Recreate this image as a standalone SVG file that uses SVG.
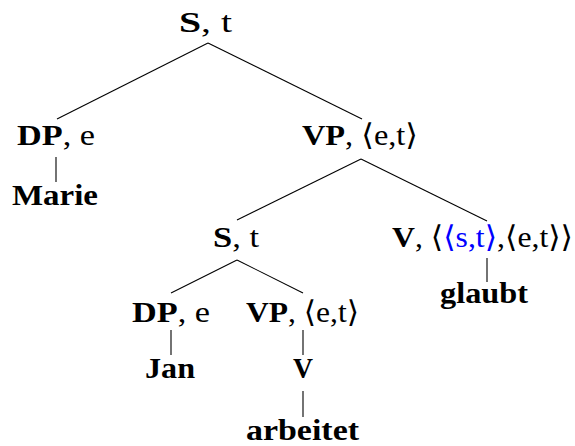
<svg xmlns="http://www.w3.org/2000/svg" width="575" height="446" viewBox="0 0 575 446">
<style>
text{font-family:"Liberation Serif","DejaVu Serif",serif;font-size:30px;fill:#000}
.b{font-weight:bold}
.blue{fill:#0000ff}
.edges line{stroke:#000;stroke-width:1.1}
</style>
<rect width="575" height="446" fill="#fff"/>
<g class="edges">
<line x1="208" y1="43" x2="57" y2="119"/>
<line x1="208" y1="43" x2="362" y2="119"/>
<line x1="56" y1="157" x2="56" y2="182"/>
<line x1="361" y1="159" x2="237" y2="220"/>
<line x1="361" y1="159" x2="487" y2="221"/>
<line x1="237" y1="260" x2="171" y2="293"/>
<line x1="237" y1="260" x2="303" y2="293"/>
<line x1="171" y1="330" x2="171" y2="355"/>
<line x1="303" y1="330" x2="303" y2="355"/>
<line x1="303" y1="391" x2="303" y2="417"/>
<line x1="487" y1="258" x2="487" y2="282"/>
</g>
<g id="root"><text x="179" y="32" textLength="53" lengthAdjust="spacingAndGlyphs"><tspan class="b">S</tspan>, t</text></g>
<g id="dp1"><text x="17" y="145" textLength="78" lengthAdjust="spacingAndGlyphs"><tspan class="b">DP</tspan>, e</text></g>
<g id="marie"><text class="b" x="12" y="205" textLength="86" lengthAdjust="spacingAndGlyphs">Marie</text></g>
<g id="vp1"><text x="302" y="145" textLength="116" lengthAdjust="spacingAndGlyphs"><tspan class="b">VP</tspan>, ⟨e,t⟩</text></g>
<g id="s2"><text x="213" y="247" textLength="46" lengthAdjust="spacingAndGlyphs"><tspan class="b">S</tspan>, t</text></g>
<g id="v1"><text x="392" y="247" textLength="181" lengthAdjust="spacingAndGlyphs"><tspan class="b">V</tspan>, ⟨<tspan class="blue">⟨s,t⟩</tspan>,⟨e,t⟩⟩</text></g>
<g id="glaubt"><text class="b" x="440" y="303" textLength="88" lengthAdjust="spacingAndGlyphs">glaubt</text></g>
<g id="dp2"><text x="132" y="322" textLength="78" lengthAdjust="spacingAndGlyphs"><tspan class="b">DP</tspan>, e</text></g>
<g id="vp2"><text x="246" y="322" textLength="113" lengthAdjust="spacingAndGlyphs"><tspan class="b">VP</tspan>, ⟨e,t⟩</text></g>
<g id="jan"><text class="b" x="145" y="378" textLength="50" lengthAdjust="spacingAndGlyphs">Jan</text></g>
<g id="v2"><text class="b" x="293" y="378" textLength="20" lengthAdjust="spacingAndGlyphs">V</text></g>
<g id="arbeitet"><text class="b" x="246" y="440" textLength="113" lengthAdjust="spacingAndGlyphs">arbeitet</text></g>
</svg>
